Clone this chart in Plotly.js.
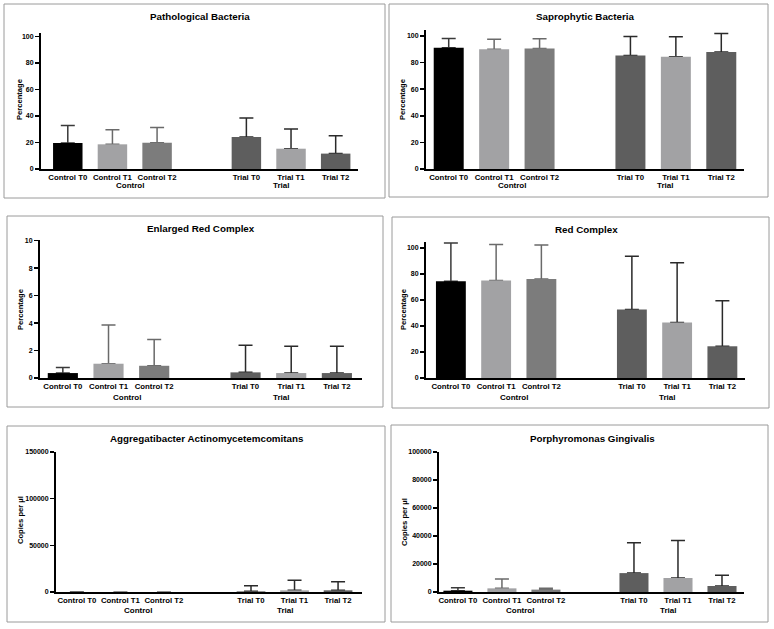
<!DOCTYPE html>
<html>
<head>
<meta charset="utf-8">
<script src="https://cdn.plot.ly/plotly-3.0.1.min.js"></script>
<style>html,body{margin:0;padding:0;background:#fff;}#chart{width:774px;height:629px;}</style>
</head>
<body>
<div id="chart"></div>
<script>
// ---- data ----
const categories = ['Control T0', 'Control T1', 'Control T2', 'Trial T0', 'Trial T1', 'Trial T2'];
const groupOf = [0, 0, 0, 1, 1, 1];
const groups = ['Control', 'Trial'];

const pathoMean = [19.6, 18.6, 19.8, 24.1, 15.3, 11.6];
const pathoSD   = [13.1, 11.0, 11.4, 14.3, 14.9, 13.5];

const saproMean = [91.2, 90.0, 90.5, 85.4, 84.4, 87.9];
const saproSD   = [7.0, 7.5, 7.5, 14.3, 15.1, 13.9];

const enlargedMean = [0.36, 1.04, 0.89, 0.41, 0.36, 0.36];
const enlargedSD   = [0.41, 2.82, 1.91, 1.98, 1.95, 1.95];

const redMean = [74.4, 74.9, 76.2, 52.6, 42.6, 24.4];
const redSD   = [29.4, 27.7, 26.1, 41.0, 46.1, 35.1];

const aggMean = [0, 0, 0, 700, 1800, 1800];
const aggSD   = [0, 0, 0, 6100, 10700, 9300];

const pgMean = [950, 2600, 1700, 13500, 10000, 4300];
const pgSD   = [2150, 6700, 900, 21600, 26800, 7600];

const pctTicks = [0, 20, 40, 60, 80, 100];
const enlTicks = [0, 2, 4, 6, 8, 10];
const aggTicks = [0, 50000, 100000, 150000];
const pgTicks = [0, 20000, 40000, 60000, 80000, 100000];

// ---- styles ----
const barColors = ['#000000', '#a2a2a4', '#7c7c7c', '#5e5e5e', '#a2a2a4', '#5e5e5e'];
const errColors = ['#3a3a3a', '#6a6a6a', '#6a6a6a', '#2a2a2a', '#2a2a2a', '#2a2a2a'];
const FONT = 'Liberation Sans, Arial, Helvetica, sans-serif';
const W = 774, H = 629;
const fx = p => p / W;
const fy = p => 1 - p / H;

const panels = [
  {title: 'Pathological Bacteria', mean: pathoMean, sd: pathoSD, ytitle: 'Percentage', ticks: pctTicks, yMax: 102.5,
   xr: [-0.6, 6.5], box: [4, 4, 385, 198], ax: [41, 358, 33, 169], tPos: [200, 17], ytPos: [19, 100], gY: 186},
  {title: 'Saprophytic Bacteria', mean: saproMean, sd: saproSD, ytitle: 'Percentage', ticks: pctTicks, yMax: 104.5,
   xr: [-0.5, 6.5], box: [389, 4, 768, 197], ax: [426, 744, 30, 169], tPos: [585, 17], ytPos: [402, 100], gY: 186},
  {title: 'Enlarged Red Complex', mean: enlargedMean, sd: enlargedSD, ytitle: 'Percentage', ticks: enlTicks, yMax: 10.05,
   xr: [-0.5, 6.55], box: [7, 216, 383, 407], ax: [40, 362, 240, 378], tPos: [201, 228], ytPos: [21, 310], gY: 397},
  {title: 'Red Complex', mean: redMean, sd: redSD, ytitle: 'Percentage', ticks: pctTicks, yMax: 104.6,
   xr: [-0.55, 6.5], box: [392, 217, 769, 408], ax: [426, 745, 242, 378], tPos: [586, 229], ytPos: [404, 310], gY: 397},
  {title: 'Aggregatibacter Actinomycetemcomitans', mean: aggMean, sd: aggSD, ytitle: 'Copies per µl', ticks: aggTicks, yMax: 150000,
   xr: [-0.48, 6.55], box: [7, 426, 385, 622], ax: [56, 362, 452, 592], tPos: [207, 438], ytPos: [20, 520], gY: 610},
  {title: 'Porphyromonas Gingivalis', mean: pgMean, sd: pgSD, ytitle: 'Copies per µl', ticks: pgTicks, yMax: 100000,
   xr: [-0.43, 6.5], box: [391, 425, 768, 622], ax: [439, 744, 452, 592], tPos: [592, 438], ytPos: [404, 522], gY: 610}
];
const groupLabelPos = [1.4, 4.77];

const positions = categories.map((c, i) => i + groupOf[i]);

const traces = [];
const layout = {
  width: W, height: H,
  margin: {l: 0, r: 0, t: 0, b: 0},
  paper_bgcolor: '#ffffff', plot_bgcolor: 'rgba(0,0,0,0)',
  showlegend: false, barmode: 'overlay',
  font: {family: FONT, color: '#000'},
  shapes: [], annotations: []
};

panels.forEach((p, k) => {
  const n = k + 1;
  const xa = 'x' + (n === 1 ? '' : n), ya = 'y' + (n === 1 ? '' : n);
  // error bars (under the visible bars so that the lower cap is hidden)
  categories.forEach((c, i) => {
    traces.push({
      type: 'bar', xaxis: xa, yaxis: ya,
      x: [positions[i]], y: [p.mean[i]], width: 0.66,
      marker: {color: 'rgba(0,0,0,0)', line: {width: 0}},
      error_y: {type: 'data', symmetric: false, array: [p.sd[i]], arrayminus: [0],
                color: errColors[i], thickness: 1.5, width: 7},
      textposition: 'none', hoverinfo: 'skip'
    });
  });
  traces.push({
    type: 'bar', xaxis: xa, yaxis: ya,
    x: positions, y: p.mean, width: 0.66, customdata: categories, textposition: 'none',
    marker: {color: barColors, line: {width: 0}},
    hovertemplate: '%{customdata}: %{y}<extra></extra>'
  });

  const xKey = 'xaxis' + (n === 1 ? '' : n), yKey = 'yaxis' + (n === 1 ? '' : n);
  layout[xKey] = {
    domain: [fx(p.ax[0]), fx(p.ax[1])], anchor: ya, range: p.xr,
    tickvals: positions, ticktext: categories, ticks: '',
    tickfont: {family: FONT, size: 7.8, weight: 'bold', color: '#000'},
    showline: true, linecolor: '#000', linewidth: 2,
    showgrid: false, zeroline: false, fixedrange: true
  };
  layout[yKey] = {
    domain: [fy(p.ax[3]), fy(p.ax[2])], anchor: xa, range: [0, p.yMax],
    tickvals: p.ticks, ticktext: p.ticks.map(String),
    ticks: 'outside', ticklen: 4, tickwidth: 1.5, tickcolor: '#000',
    tickfont: {family: FONT, size: 7, weight: 'bold', color: '#000'},
    showline: true, linecolor: '#000', linewidth: 2,
    showgrid: false, zeroline: false, fixedrange: true
  };
  layout.shapes.push({type: 'rect', xref: 'paper', yref: 'paper',
    x0: fx(p.box[0]), x1: fx(p.box[2]), y0: fy(p.box[3]), y1: fy(p.box[1]),
    line: {color: '#9a9a9a', width: 1}, fillcolor: 'rgba(0,0,0,0)', layer: 'below'});
  layout.annotations.push({text: p.title, xref: 'paper', yref: 'paper',
    x: fx(p.tPos[0]), y: fy(p.tPos[1]), xanchor: 'center', yanchor: 'middle', showarrow: false,
    font: {family: FONT, size: 9.8, weight: 'bold', color: '#000'}});
  layout.annotations.push({text: p.ytitle, xref: 'paper', yref: 'paper', textangle: -90,
    x: fx(p.ytPos[0]), y: fy(p.ytPos[1]), xanchor: 'center', yanchor: 'middle', showarrow: false,
    font: {family: FONT, size: 7.6, weight: 'bold', color: '#000'}});
  groups.forEach((g, j) => {
    layout.annotations.push({text: g, xref: xa, yref: 'paper',
      x: groupLabelPos[j], y: fy(p.gY), xanchor: 'center', yanchor: 'middle', showarrow: false,
      font: {family: FONT, size: 8, weight: 'bold', color: '#000'}});
  });
});

Plotly.newPlot('chart', traces, layout, {displayModeBar: false, staticPlot: true});
</script>
</body>
</html>
